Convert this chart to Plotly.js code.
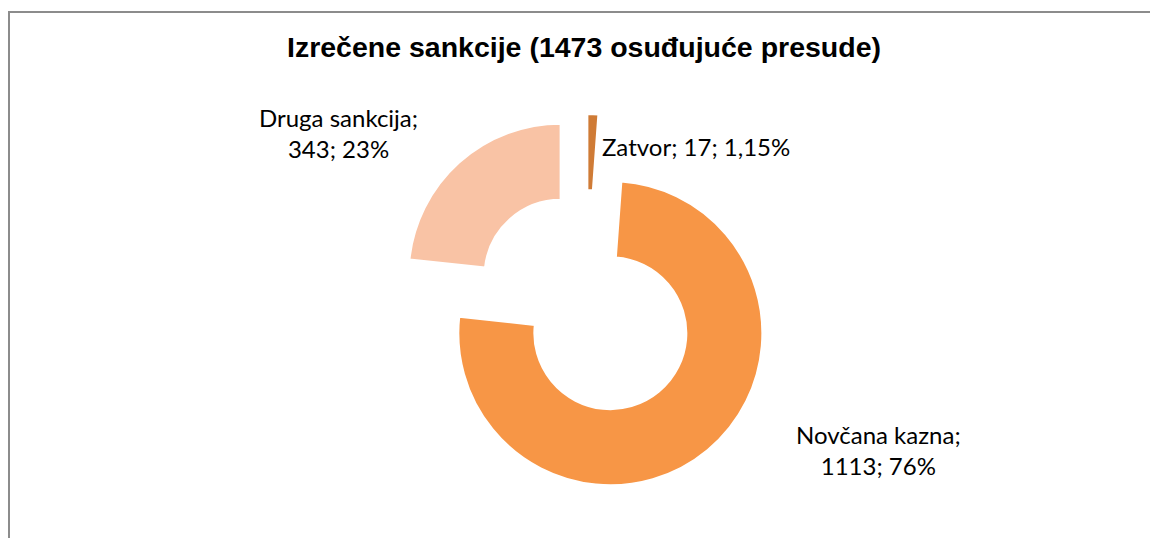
<!DOCTYPE html>
<html>
<head>
<meta charset="utf-8">
<script src="https://cdn.plot.ly/plotly-3.0.1.min.js"></script>
<style>
html,body{margin:0;padding:0;background:#fff;}
#chart{width:1150px;height:538px;}
</style>
</head>
<body>
<div id="chart"></div>
<script>
// Data
const categories = ["Zatvor", "Novčana kazna", "Druga sankcija"];
const counts = [17, 1113, 343];
const percentLabels = ["1,15%", "76%", "23%"];
const sliceColors = ["#CF7B36", "#F79646", "#F9C3A5"];
const chartTitle = "Izrečene sankcije (1473 osuđujuće presude)";

const W = 1150, H = 538;
const px = (x) => x / W;
const py = (y) => (H - y) / H;

const trace = {
  type: "pie",
  labels: categories,
  values: counts,
  sort: false,
  direction: "clockwise",
  rotation: 0,
  hole: 0.5,
  pull: [0.25, 0.25, 0.25],
  textinfo: "none",
  hoverinfo: "label+value+percent",
  marker: { colors: sliceColors, line: { color: "#ffffff", width: 2 } },
  domain: { x: [px(396), px(776)], y: [py(494), py(114)] },
  showlegend: false
};

const lblFont = { family: "Lato, 'Noto Sans', sans-serif", size: 24, color: "#000" };
const annotations = [
  { text: categories[2] + ";<br>" + counts[2] + "; " + percentLabels[2],
    x: px(338), y: py(133), xanchor: "center", yanchor: "middle" },
  { text: categories[0] + "; " + counts[0] + "; " + percentLabels[0],
    x: px(600), y: py(146), xanchor: "left", yanchor: "middle" },
  { text: categories[1] + ";<br>" + counts[1] + "; " + percentLabels[1],
    x: px(878), y: py(450), xanchor: "center", yanchor: "middle" }
].map(a => Object.assign({ xref: "paper", yref: "paper", showarrow: false, font: lblFont, align: "center" }, a));

const layout = {
  width: W, height: H,
  margin: { l: 0, r: 0, t: 0, b: 0 },
  paper_bgcolor: "#ffffff",
  title: {
    text: "<b>" + chartTitle + "</b>",
    font: { family: "'Liberation Sans', Arial, sans-serif", size: 28.5, color: "#000" },
    x: px(584), xanchor: "center",
    y: py(47), yanchor: "middle"
  },
  annotations: annotations,
  shapes: [{
    type: "rect", xref: "paper", yref: "paper",
    x0: px(9), x1: 1.02, y0: -0.02, y1: py(12),
    line: { color: "#8c8c8c", width: 2 }
  }]
};

Plotly.newPlot("chart", [trace], layout, { staticPlot: true, displayModeBar: false });
</script>
</body>
</html>
